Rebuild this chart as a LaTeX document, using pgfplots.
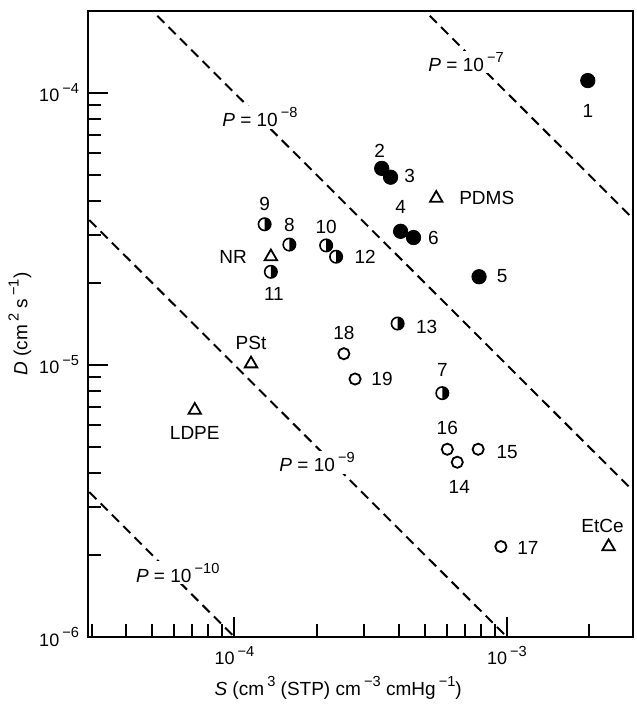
\documentclass[border=0pt]{standalone}
\usepackage{pgfplots}
\pgfplotsset{compat=1.18}
\usepackage{fontspec}
\setmainfont{Liberation Sans}
\pgfdeclareplotmark{halfcirc}{%
  \pgfpathmoveto{\pgfqpoint{0pt}{\pgfplotmarksize}}%
  \pgfpatharc{90}{-90}{\pgfplotmarksize}%
  \pgfpathclose
  \pgfusepathqfill
  \pgfpathcircle{\pgfpointorigin}{\pgfplotmarksize}%
  \pgfusepathqstroke
}
\newcommand{\lab}{\fontsize{9.5}{11}\selectfont}
\newcommand{\su}[1]{\raisebox{0.45em}{\fontsize{7.3}{8}\selectfont #1}}
\newcommand{\tl}[1]{\fontsize{9}{10}\selectfont 10\,\su{−#1}}
\begin{document}
\begin{tikzpicture}
\begin{axis}[
  name=ax,
  scale only axis, width=272.5pt, height=313pt,
  xmode=log, ymode=log,
  xmin=2.9e-5, xmax=2.9e-3, ymin=1e-6, ymax=2e-4,
  axis line style={line width=1.3pt},
  tick align=inside,
  xtick pos=lower, ytick pos=left,
  xtick={1e-4,1e-3}, xticklabels={\tl{4},\tl{3}},
  ytick={1e-6,1e-5,1e-4}, yticklabels={\tl{6},\tl{5},\tl{4}},
  minor xtick={3e-5,4e-5,5e-5,6e-5,7e-5,8e-5,9e-5,2e-4,3e-4,4e-4,5e-4,6e-4,7e-4,8e-4,9e-4,2e-3},
  minor ytick={2e-6,3e-6,4e-6,5e-6,6e-6,7e-6,8e-6,9e-6,2e-5,3e-5,4e-5,5e-5,6e-5,7e-5,8e-5,9e-5},
  major tick length=10pt, minor tick length=6.5pt,
  every tick/.style={line width=1pt, black},
  xticklabel style={yshift=-1pt, font=\fontsize{9}{10}\selectfont},
  yticklabel style={xshift=-1pt, font=\fontsize{9}{10}\selectfont},
  xlabel={\textit{S} (cm\,\su{3} (STP) cm\,\su{−3} cmHg\,\su{−1})},
  ylabel={\textit{D} (cm\,\su{2} s\,\su{−1})},
  label style={font=\fontsize{9.5}{11}\selectfont},
  xlabel style={at={(axis description cs:0.459,-0.0815)}, anchor=center},
  ylabel style={at={(axis description cs:-0.125,0.5)}, anchor=center, rotate=0},
  clip=true,
]
% P lines
\addplot[black, line width=1pt, dash pattern=on 5pt off 3pt] coordinates {(2e-4,5e-4) (1e-2,1e-5)};
\addplot[black, line width=1pt, dash pattern=on 5pt off 3pt] coordinates {(2e-5,5e-4) (1e-2,1e-6)};
\addplot[black, line width=1pt, dash pattern=on 5pt off 3pt] coordinates {(2e-5,5e-5) (1e-2,1e-7)};
\addplot[black, line width=1pt, dash pattern=on 5pt off 3pt] coordinates {(2e-5,5e-6) (1e-2,1e-8)};
% filled circles
\addplot[only marks, mark=*, mark size=3.6pt, mark options={fill=black, draw=black}] coordinates {
(1.98e-3,1.11e-4) (3.47e-4,5.28e-5) (3.74e-4,4.9e-5) (4.07e-4,3.1e-5) (4.54e-4,2.94e-5) (7.9e-4,2.11e-5)};
% half-filled circles
\addplot[only marks, mark=halfcirc, mark size=3.1pt, mark options={fill=black, draw=black, line width=0.8pt}] coordinates {
(5.79e-4,7.88e-6) (1.59e-4,2.77e-5) (1.29e-4,3.29e-5) (2.17e-4,2.75e-5) (1.36e-4,2.2e-5) (2.36e-4,2.5e-5) (3.97e-4,1.42e-5)};
% open circles
\addplot[only marks, mark=o, mark size=2.8pt, mark options={draw=black, line width=0.9pt}] coordinates {
(6.57e-4,4.39e-6) (7.84e-4,4.9e-6) (6.04e-4,4.9e-6) (9.5e-4,2.15e-6) (2.52e-4,1.1e-5) (2.77e-4,8.88e-6)};
% triangles
\addplot[only marks, mark=triangle, mark size=3.6pt, mark options={draw=black, line width=0.9pt}] coordinates {
(5.5e-4,4.1e-5) (1.36e-4,2.5e-5) (1.15e-4,1.01e-5) (7.15e-5,6.82e-6) (2.36e-3,2.15e-6)};
% P labels
\node[fill=white, inner sep=1pt, font=\lab] at (axis cs:7.08e-4,1.30e-4) {\textit{P} = 10\,\su{−7}};
\node[fill=white, inner sep=1pt, font=\lab] at (axis cs:1.24e-4,8.15e-5) {\textit{P} = 10\,\su{−8}};
\node[fill=white, inner sep=1pt, font=\lab] at (axis cs:2.01e-4,4.39e-6) {\textit{P} = 10\,\su{−9}};
\node[fill=white, inner sep=1pt, font=\lab] at (axis cs:6.19e-5,1.72e-6) {\textit{P} = 10\,\su{−10}};
% point labels
\node[font=\lab, yshift=-15pt] at (axis cs:1.98e-3,1.11e-4) {1};
\node[font=\lab, xshift=-1pt, yshift=8.5pt] at (axis cs:3.47e-4,5.28e-5) {2};
\node[font=\lab, xshift=9.5pt, yshift=0.5pt] at (axis cs:3.74e-4,4.9e-5) {3};
\node[font=\lab, yshift=12pt] at (axis cs:4.07e-4,3.1e-5) {4};
\node[font=\lab, xshift=11.5pt, yshift=0.5pt] at (axis cs:7.9e-4,2.11e-5) {5};
\node[font=\lab, xshift=10pt] at (axis cs:4.54e-4,2.94e-5) {6};
\node[font=\lab, yshift=11.5pt] at (axis cs:5.79e-4,7.88e-6) {7};
\node[font=\lab, yshift=10pt] at (axis cs:1.59e-4,2.77e-5) {8};
\node[font=\lab, yshift=10pt] at (axis cs:1.29e-4,3.29e-5) {9};
\node[font=\lab, yshift=9pt] at (axis cs:2.17e-4,2.75e-5) {10};
\node[font=\lab, xshift=1.5pt, yshift=-11pt] at (axis cs:1.36e-4,2.2e-5) {11};
\node[font=\lab, xshift=14.5pt] at (axis cs:2.36e-4,2.5e-5) {12};
\node[font=\lab, xshift=14.5pt, yshift=-1.5pt] at (axis cs:3.97e-4,1.42e-5) {13};
\node[font=\lab, xshift=1pt, yshift=-12.5pt] at (axis cs:6.57e-4,4.39e-6) {14};
\node[font=\lab, xshift=14.5pt, yshift=-1.5pt] at (axis cs:7.84e-4,4.9e-6) {15};
\node[font=\lab, yshift=10.5pt] at (axis cs:6.04e-4,4.9e-6) {16};
\node[font=\lab, xshift=13.5pt, yshift=-0.5pt] at (axis cs:9.5e-4,2.15e-6) {17};
\node[font=\lab, yshift=10.5pt] at (axis cs:2.52e-4,1.1e-5) {18};
\node[font=\lab, xshift=13.5pt] at (axis cs:2.77e-4,8.88e-6) {19};
\node[font=\lab, anchor=west, xshift=8pt] at (axis cs:5.5e-4,4.1e-5) {PDMS};
\node[font=\lab, anchor=east, xshift=-8.5pt] at (axis cs:1.36e-4,2.5e-5) {NR};
\node[font=\lab, yshift=10.5pt] at (axis cs:1.15e-4,1.01e-5) {PSt};
\node[font=\lab, yshift=-11.5pt] at (axis cs:7.15e-5,6.82e-6) {LDPE};
\node[font=\lab, xshift=-3pt, yshift=10.5pt] at (axis cs:2.36e-3,2.15e-6) {EtCe};
\end{axis}
\pgfresetboundingbox
\path[use as bounding box] ([xshift=-44pt,yshift=-33.5pt]ax.south west) rectangle ([xshift=1.5pt,yshift=5.5pt]ax.north east);
\end{tikzpicture}
\end{document}
